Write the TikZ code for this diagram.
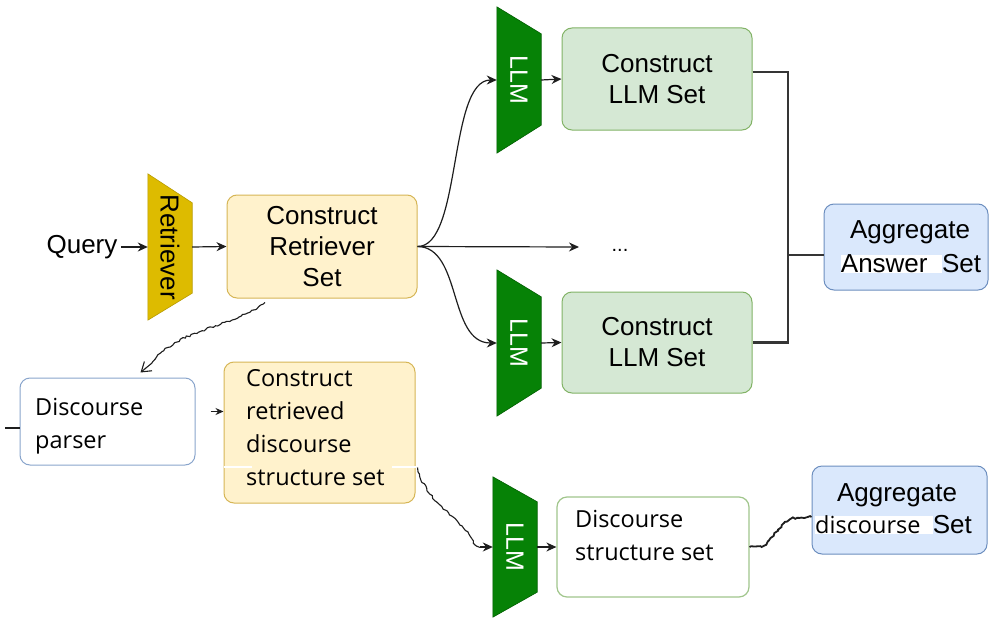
\documentclass[tikz,border=0pt]{standalone}
\usepackage{fontspec}
\setmainfont{Liberation Sans}
\newfontfamily\segoe{Open Sans}
\usetikzlibrary{arrows.meta,backgrounds,decorations.pathmorphing}
\definecolor{yfill}{HTML}{FFF2CC}
\definecolor{ydraw}{HTML}{D6B656}
\definecolor{gfill}{HTML}{D5E8D4}
\definecolor{gdraw}{HTML}{82B366}
\definecolor{bfill}{HTML}{DAE8FC}
\definecolor{bdraw}{HTML}{6C8EBF}
\definecolor{retfill}{HTML}{DDBB00}
\definecolor{retdraw}{HTML}{B89B00}
\definecolor{llmfill}{HTML}{068206}
\definecolor{llmdraw}{HTML}{005E00}
\definecolor{conn}{HTML}{1E1E1E}
\newcommand\trapfill[5]{%
  \fill[#2,draw=#3,line width=0.6pt] (#1.north west) -- ([yshift=-#4]#1.north east) -- ([yshift=#5]#1.south east) -- (#1.south west) -- cycle;}
\tikzset{
  bigfont/.style={font=\fontsize{26}{31}\selectfont},
  sbox/.style={draw, rounded corners=10pt, line width=1pt, inner sep=0pt, align=center, bigfont},
  ybox/.style={sbox, fill=yfill, draw=ydraw},
  gbox/.style={sbox, fill=gfill, draw=gdraw},
  bbox/.style={sbox, fill=bfill, draw=bdraw},
  trapnode/.style={minimum width=44pt, inner sep=0pt, font=\fontsize{25}{28}\selectfont},
  dtext/.style={font=\segoe\fontsize{23.5}{33}\selectfont, align=left, inner sep=0pt},
  arr/.style={draw=conn, line width=1.2pt, -{Stealth[length=10pt,width=9pt]}},
  wavy/.style={draw=conn, line width=1.1pt, decorate, decoration={random steps, segment length=2.5pt, amplitude=1pt}},
  thickline/.style={draw=conn!90, line width=2.6pt},
}
\begin{document}
\begin{tikzpicture}[x=1pt,y=-1pt]
\pgfmathsetseed{7}
\useasboundingbox (0,0) rectangle (990,618);

% nodes
\node[bigfont, anchor=center] (query) at (82,247) {Query};
\node[trapnode, minimum height=146pt, font=\fontsize{26}{30}\selectfont] (ret) at (170,247) {\rotatebox{-90}{Retriever}};
\node[ybox, minimum width=190pt, minimum height=103pt] (crs) at (322,246.5) {Construct\\Retriever\\Set};

\node[trapnode, minimum height=146pt, text=white] (llm1) at (519,80) {\rotatebox{-90}{LLM}};
\node[trapnode, minimum height=146pt, text=white] (llm2) at (519,343) {\rotatebox{-90}{LLM}};
\node[gbox, minimum width=190pt, minimum height=102pt] (cl1) at (657,79) {Construct\\LLM Set};
\node[gbox, minimum width=190pt, minimum height=101pt] (cl2) at (657,342.5) {Construct\\LLM Set};
\node[font=\fontsize{20}{24}\selectfont] (dots) at (620,250) {...};
\coordinate (dotsin) at (579,247);

\node[bbox, minimum width=164pt, minimum height=86pt] (aas) at (906,247) {};
\node[bigfont, anchor=center] (aast1) at (910,232) {Aggregate};
\node[bigfont, anchor=center] (aast2) at (911,264) {\setlength{\fboxsep}{0pt}\colorbox{white}{Answer\ \ }Set};

\node[draw=bdraw!80, fill=white, rounded corners=10pt, line width=1pt, minimum width=175pt, minimum height=87pt] (dp) at (107.5,421.5) {};
\node[dtext, anchor=west] (dpt) at (35,426) {Discourse\\parser};

\node[ybox, minimum width=191pt, minimum height=141pt] (crd) at (319.5,432.5) {};
\node[dtext, anchor=west] (crdt) at (246,428) {Construct\\retrieved\\discourse\\structure set};
\draw[white, line width=2pt] (crd.west |- 0,467) -- (252,467);
\draw[white, line width=2pt] (392,467) -- (crd.east |- 0,467);

\node[trapnode, minimum height=140pt, text=white] (llm3) at (515,547) {\rotatebox{-90}{LLM}};
\node[draw=gdraw!75, fill=white, rounded corners=10pt, line width=1.2pt, minimum width=192pt, minimum height=100pt] (dss) at (653,547) {};
\node[dtext, anchor=west] (dsst) at (575,535) {Discourse\\structure set};

\node[bbox, minimum width=175pt, minimum height=88pt] (ada) at (899.5,510) {};
\node[bigfont, anchor=center] (adat1) at (897,495) {Aggregate};
\node[anchor=west, inner sep=0pt] (adat2) at (815,525) {\setlength{\fboxsep}{0pt}\colorbox{white}{\segoe\fontsize{23.5}{28}\selectfont discourse\ \ }{\fontsize{26}{31}\selectfont Set}};

% trapezoids and page background
\begin{scope}[on background layer]
\fill[white] (0,0) rectangle (990,618);
\trapfill{ret}{retfill}{retdraw}{29pt}{27pt}
\trapfill{llm1}{llmfill}{llmdraw}{27pt}{28pt}
\trapfill{llm2}{llmfill}{llmdraw}{27pt}{28pt}
\trapfill{llm3}{llmfill}{llmdraw}{25pt}{25pt}
\end{scope}

% connectors
\draw[arr] (query.east) -- (ret.west);
\draw[arr] (ret.east) -- (crs.west);
\draw[arr] (crs.east) .. controls (462,247) and (448,80) .. (llm1.west);
\draw[arr] (crs.east) -- (dotsin);
\draw[arr] (crs.east) .. controls (462,247) and (448,343) .. (llm2.west);
\draw[arr] (llm1.east) -- (cl1.west);
\draw[arr] (llm2.east) -- (cl2.west);

\coordinate (junc) at (788,255);
\draw[thickline] ([yshift=7pt]cl1.east) -| (junc) |- (cl2.east);
\draw[thickline] (junc) -- (junc -| aas.west);

% wavy: Construct Retriever Set -> Discourse parser
\coordinate (dpin) at ([xshift=33pt,yshift=5pt]dp.north);
\draw[wavy] ([xshift=-57pt,yshift=-4pt]crs.south) .. controls (230,328) and (175,330) .. (152,363);
\draw[draw=conn, line width=1.1pt, -{Straight Barb[length=9pt,width=12pt]}] (152,363) -- (dpin);

\coordinate (lft) at (5,428);
\draw[draw=conn, line width=1.5pt] (lft) -- (lft -| dp.west);
\draw[arr, line width=1pt, -{Stealth[length=8pt,width=7pt]}] ([xshift=15pt,yshift=10pt]dp.east) -- ([yshift=10pt]dp.east -| crd.west);

% wavy: Construct retrieved -> LLM
\draw[wavy] ([xshift=2pt,yshift=-35pt]crd.east) .. controls (425,500) and (455,515) .. (470,536) .. controls (474,543) and (476,546) .. (480,547);
\draw[arr] (480,547) -- (llm3.west);
\draw[arr] (llm3.east) -- (dss.west);

% wavy: Discourse structure set -> Aggregate discourse Set
\draw[wavy, line width=1.8pt] (dss.east) -- ++(12,0) .. controls (775,540) and (780,518) .. (797,518) -- ([yshift=-7pt]ada.west);
\end{tikzpicture}
\end{document}
